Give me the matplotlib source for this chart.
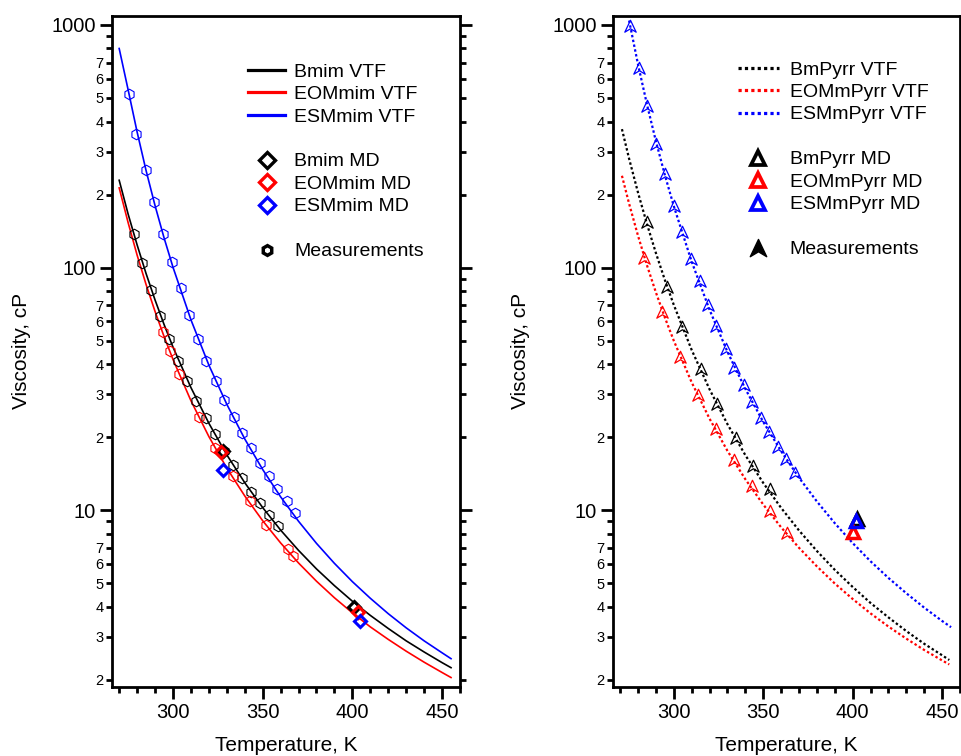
import matplotlib
matplotlib.use("Agg")
import matplotlib.pyplot as plt
from matplotlib.lines import Line2D
from matplotlib.path import Path
from matplotlib.ticker import FixedLocator, FuncFormatter, MultipleLocator
import numpy as np

plt.rcParams['font.family'] = ['Liberation Sans', 'DejaVu Sans']

# ---------------- imidazolium ILs (left panel) ----------------
# VTF fit curves, viscosity in cP
T_im_vtf = [270, 275, 280, 285, 290, 295, 300, 310, 320, 330, 340, 350, 360,
            370, 380, 390, 400, 410, 420, 430, 440, 450, 455]
bmim_vtf = [229, 166, 124, 94.4, 73.5, 58.3, 47.0, 32.0, 22.8, 16.9, 12.97,
            10.24, 8.27, 6.82, 5.72, 4.88, 4.21, 3.68, 3.25, 2.89, 2.60, 2.35, 2.24]
eommim_vtf = [213, 153, 112.5, 85.1, 65.9, 52.0, 41.8, 28.25, 20.1, 14.9, 11.44,
              9.04, 7.32, 6.05, 5.09, 4.35, 3.77, 3.30, 2.93, 2.62, 2.36, 2.14, 2.04]
esmmim_vtf = [800, 540, 362, 251, 180, 132.7, 100.3, 60.9, 39.6, 27.3, 19.65,
              14.7, 11.34, 8.99, 7.29, 6.03, 5.07, 4.33, 3.74, 3.27, 2.89, 2.58, 2.44]

# measured viscosities
T_bmim_exp = [278, 283, 288, 293, 298, 303, 308, 313, 318.5, 323.5, 328.5,
              333.5, 338.5, 343.5, 348.5, 353.5, 358.5]
bmim_exp = [138, 104.4, 80.5, 63.3, 50.7, 41.3, 34.2, 28.3, 24.0, 20.5, 17.6,
            15.4, 13.5, 11.9, 10.66, 9.54, 8.59]
T_eommim_exp = [294.5, 298.5, 303.5, 314.5, 323.5, 333.5, 343, 352, 364, 367]
eommim_exp = [54.4, 45.4, 36.3, 24.2, 18.1, 13.8, 10.86, 8.67, 6.91, 6.46]
T_esmmim_exp = [275.5, 279.5, 285, 289.5, 294.5, 299.5, 304.5, 309, 314, 318.5,
                324, 328.5, 334, 338.5, 343.5, 348.5, 353.5, 358, 363.5, 368]
esmmim_exp = [518, 355, 252, 186, 138, 105.7, 82.3, 63.7, 50.9, 41.3, 34.2, 28.5,
              24.3, 20.8, 18.0, 15.7, 13.85, 12.24, 10.9, 9.75]

# MD results
T_bmim_md = [328, 401]
bmim_md = [17.6, 4.0]
T_eommim_md = [327, 403]
eommim_md = [17.4, 3.8]
T_esmmim_md = [328, 404]
esmmim_md = [14.7, 3.5]

# ---------------- pyrrolidinium ILs (right panel) ----------------
T_pyr_vtf = [271, 275, 280, 285, 290, 295, 300, 310, 320, 330, 340, 350, 360,
             370, 380, 390, 400, 410, 420, 430, 440, 450, 454]
bmpyrr_vtf = [372, 281, 203.5, 151, 114.7, 88.8, 70.1, 45.7, 31.45, 22.6, 16.84,
              12.94, 10.21, 8.24, 6.78, 5.67, 4.82, 4.14, 3.61, 3.17, 2.81, 2.52, 2.41]
eommpyrr_vtf = [239, 183.4, 135.1, 102.1, 78.9, 62.2, 49.9, 33.6, 23.8, 17.54,
                13.40, 10.54, 8.49, 6.99, 5.86, 4.98, 4.30, 3.75, 3.31, 2.95, 2.65,
                2.40, 2.31]
T_esmpyr_vtf = [275, 280, 285, 290, 295, 300, 310, 320, 330, 340, 350, 360, 370,
                380, 390, 400, 410, 420, 430, 440, 450, 455]
esmmpyrr_vtf = [1043, 687, 470, 331.5, 240.6, 179.0, 105.7, 66.9, 44.9, 31.6,
                23.1, 17.5, 13.6, 10.85, 8.83, 7.31, 6.15, 5.25, 4.54, 3.96, 3.49, 3.29]

T_bmpyrr_exp = [285, 296, 304.5, 315, 324, 334.5, 344, 353.5]
bmpyrr_exp = [154.5, 83.3, 57.1, 38.0, 27.5, 19.8, 15.2, 12.17]
T_eommpyrr_exp = [283.5, 293.5, 303.5, 313.5, 323.5, 333.5, 343.5, 353.5, 363.5]
eommpyrr_exp = [109.2, 65.4, 42.9, 29.8, 21.5, 16.1, 12.56, 9.88, 8.01]
T_esmmpyrr_exp = [275.5, 280.5, 285, 290, 295, 300, 304.5, 309.5, 314.5, 319,
                  323.5, 329, 333.5, 339, 343.5, 348.5, 353, 358.5, 363, 368]
esmmpyrr_exp = [990, 667, 463.5, 323, 242.3, 179.8, 139.7, 108.7, 88.0, 70.0,
                57.4, 46.3, 38.6, 32.8, 28.0, 23.9, 21.0, 18.2, 16.2, 14.25]

T_bmpyrr_md = [402.5]
bmpyrr_md = [9.15]
T_eommpyrr_md = [400]
eommpyrr_md = [8.15]
T_esmmpyrr_md = [402]
esmmpyrr_md = [9.05]

BLACK, RED, BLUE = '#000000', '#ff0000', '#0000ff'

# arrowhead marker used for the pyrrolidinium measurements
arrow_marker = Path([(0, 0.55), (0.5, -0.5), (0, -0.2), (-0.5, -0.5), (0, 0.55)],
                    [Path.MOVETO, Path.LINETO, Path.LINETO, Path.LINETO, Path.CLOSEPOLY])

fig = plt.figure(figsize=(9.62, 7.56), dpi=100)
ax1 = fig.add_axes([112 / 962, 1 - 686.7 / 756, 348 / 962, 670.7 / 756])
ax2 = fig.add_axes([613 / 962, 1 - 686.7 / 756, 347 / 962, 670.7 / 756])


def minor_label(v, pos):
    d = int(round(v / 10 ** np.floor(np.log10(v) + 1e-9)))
    return str(d) if 2 <= d <= 7 else ''


def style_axes(ax):
    ax.set_yscale('log')
    ax.set_xlim(266, 460)
    ax.set_ylim(1.87, 1089)
    ax.xaxis.set_major_locator(MultipleLocator(50))
    ax.xaxis.set_minor_locator(MultipleLocator(10))
    ax.yaxis.set_major_locator(FixedLocator([1, 10, 100, 1000]))
    ax.yaxis.set_major_formatter(FuncFormatter(lambda v, p: f"{v:g}"))
    ax.yaxis.set_minor_locator(FixedLocator(
        [m * 10 ** e for e in (0, 1, 2) for m in range(2, 10)]))
    ax.yaxis.set_minor_formatter(FuncFormatter(minor_label))
    ax.tick_params(axis='y', which='both', left=True, right=True,
                   labelleft=True, labelright=False, direction='out')
    ax.tick_params(axis='x', which='both', bottom=True, top=False, direction='out')
    ax.tick_params(which='major', length=8.5, width=2, labelsize=14.5, pad=3)
    ax.tick_params(which='minor', length=4.5, width=2, labelsize=10.5, pad=1.5)
    for s in ax.spines.values():
        s.set_linewidth(2)
    ax.set_xlabel('Temperature, K', fontsize=15)
    ax.set_ylabel('Viscosity, cP', fontsize=15)
    ax.xaxis.set_label_coords(0.5, -0.074)


style_axes(ax1)
style_axes(ax2)
ax1.yaxis.set_label_coords(-0.232, 0.5)
ax2.yaxis.set_label_coords(-0.24, 0.5)

# ---- left panel ----
for T, v, c in [(T_im_vtf, bmim_vtf, BLACK), (T_im_vtf, eommim_vtf, RED),
                (T_im_vtf, esmmim_vtf, BLUE)]:
    ax1.plot(T, v, color=c, lw=1.2, zorder=2)
for T, v, c in [(T_bmim_exp, bmim_exp, BLACK), (T_eommim_exp, eommim_exp, RED),
                (T_esmmim_exp, esmmim_exp, BLUE)]:
    ax1.plot(T, v, ls='none', marker='h', ms=7.6, mfc='none', mec=c, mew=0.8, zorder=3)
for T, v, c in [(T_bmim_md, bmim_md, BLACK), (T_eommim_md, eommim_md, RED),
                (T_esmmim_md, esmmim_md, BLUE)]:
    ax1.plot(T, v, ls='none', marker='D', ms=6.2, mfc='none', mec=c, mew=2.2, zorder=4)

# ---- right panel ----
for T, v, c in [(T_pyr_vtf, bmpyrr_vtf, BLACK), (T_pyr_vtf, eommpyrr_vtf, RED),
                (T_esmpyr_vtf, esmmpyrr_vtf, BLUE)]:
    ax2.plot(T, v, color=c, lw=1.6, ls=(0, (1.1, 1.1)), zorder=2)
for T, v, c in [(T_bmpyrr_exp, bmpyrr_exp, BLACK), (T_eommpyrr_exp, eommpyrr_exp, RED),
                (T_esmmpyrr_exp, esmmpyrr_exp, BLUE)]:
    ax2.plot(T, v, ls='none', marker=arrow_marker, ms=9, mfc='none', mec=c,
             mew=0.9, zorder=3)
for T, v, c in [(T_bmpyrr_md, bmpyrr_md, BLACK), (T_eommpyrr_md, eommpyrr_md, RED),
                (T_esmmpyrr_md, esmmpyrr_md, BLUE)]:
    ax2.plot(T, v, ls='none', marker='^', ms=9, mfc='none', mec=c, mew=2.5, zorder=4)


# ---- legends ----
def blank():
    return Line2D([], [], ls='none', label=' ')


h1 = [Line2D([], [], color=BLACK, lw=2.3, label='Bmim VTF'),
      Line2D([], [], color=RED, lw=2.3, label='EOMmim VTF'),
      Line2D([], [], color=BLUE, lw=2.3, label='ESMmim VTF'),
      blank(),
      Line2D([], [], ls='none', marker='D', ms=8.2, mfc='none', mec=BLACK, mew=2.4, label='Bmim MD'),
      Line2D([], [], ls='none', marker='D', ms=8.2, mfc='none', mec=RED, mew=2.4, label='EOMmim MD'),
      Line2D([], [], ls='none', marker='D', ms=8.2, mfc='none', mec=BLUE, mew=2.4, label='ESMmim MD'),
      blank(),
      Line2D([], [], ls='none', marker='h', ms=7, mfc='none', mec=BLACK, mew=2.5, label='Measurements')]

h2 = [Line2D([], [], color=BLACK, lw=2.3, ls=(0, (1, 1)), label='BmPyrr VTF'),
      Line2D([], [], color=RED, lw=2.3, ls=(0, (1, 1)), label='EOMmPyrr VTF'),
      Line2D([], [], color=BLUE, lw=2.3, ls=(0, (1, 1)), label='ESMmPyrr VTF'),
      blank(),
      Line2D([], [], ls='none', marker='^', ms=10.5, mfc='none', mec=BLACK, mew=2.7, label='BmPyrr MD'),
      Line2D([], [], ls='none', marker='^', ms=10.5, mfc='none', mec=RED, mew=2.7, label='EOMmPyrr MD'),
      Line2D([], [], ls='none', marker='^', ms=10.5, mfc='none', mec=BLUE, mew=2.7, label='ESMmPyrr MD'),
      blank(),
      Line2D([], [], ls='none', marker=arrow_marker, ms=13, mfc=BLACK, mec=BLACK, mew=1, label='Measurements')]

leg_kw = dict(frameon=False, loc='upper left', fontsize=14, borderpad=0,
              borderaxespad=0, labelspacing=0.25, numpoints=1)
ax1.legend(handles=h1, bbox_to_anchor=(0.391, 0.930), handlelength=1.9,
           handletextpad=0.48, **leg_kw)
ax2.legend(handles=h2, bbox_to_anchor=(0.360, 0.933), handlelength=2.1,
           handletextpad=0.57, **leg_kw)

fig.savefig('out.png', dpi=100)
